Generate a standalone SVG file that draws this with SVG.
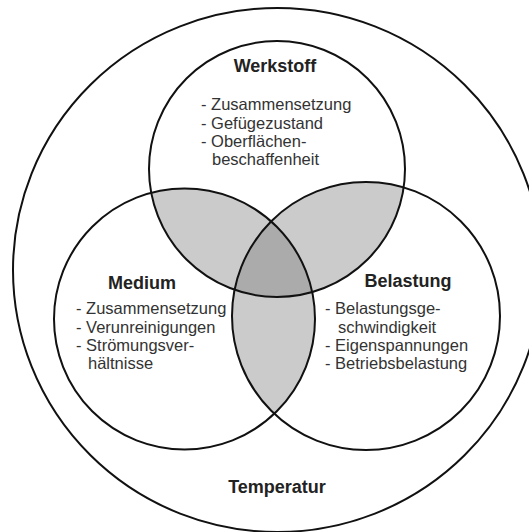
<svg xmlns="http://www.w3.org/2000/svg" width="529" height="532" viewBox="0 0 529 532">
<style>
.ring{fill:none;stroke:#111;stroke-width:2}
.title{font-family:"Liberation Sans",Arial,sans-serif;font-weight:bold;font-size:18px;fill:#222}
.item{font-family:"Liberation Sans",Arial,sans-serif;font-size:16.5px;fill:#333}
</style>
<defs>
<clipPath id="cTop"><circle cx="277" cy="169" r="128"/></clipPath>
<clipPath id="cLeft"><circle cx="184.5" cy="319" r="130.5"/></clipPath>
<clipPath id="cRight"><circle cx="366" cy="316" r="134"/></clipPath>
</defs>
<rect width="529" height="532" fill="#fff"/>
<g id="overlaps">
<circle cx="184.5" cy="319" r="130.5" fill="#cbcbcb" clip-path="url(#cTop)"/>
<circle cx="366" cy="316" r="134" fill="#cbcbcb" clip-path="url(#cTop)"/>
<circle cx="184.5" cy="319" r="130.5" fill="#cbcbcb" clip-path="url(#cRight)"/>
<g clip-path="url(#cTop)"><circle cx="184.5" cy="319" r="130.5" fill="#ababab" clip-path="url(#cRight)"/></g>
</g>
<g id="temperatur">
<ellipse class="ring" cx="277.5" cy="270" rx="264.5" ry="262"/>
<text class="title" x="277" y="493" text-anchor="middle">Temperatur</text>
</g>
<g id="werkstoff">
<circle class="ring" cx="277" cy="169" r="128"/>
<text class="title" x="275" y="72" text-anchor="middle">Werkstoff</text>
<text class="item" x="201" y="110">- Zusammensetzung</text>
<text class="item" x="201" y="128.5">- Gefügezustand</text>
<text class="item" x="201" y="147">- Oberflächen-</text>
<text class="item" x="212" y="165">beschaffenheit</text>
</g>
<g id="medium">
<circle class="ring" cx="184.5" cy="319" r="130.5"/>
<text class="title" x="142" y="289" text-anchor="middle">Medium</text>
<text class="item" x="76" y="314">- Zusammensetzung</text>
<text class="item" x="76" y="333">- Verunreinigungen</text>
<text class="item" x="76" y="351">- Strömungsver-</text>
<text class="item" x="88" y="369">hältnisse</text>
</g>
<g id="belastung">
<circle class="ring" cx="366" cy="316" r="134"/>
<text class="title" x="408" y="287" text-anchor="middle">Belastung</text>
<text class="item" x="325" y="314">- Belastungsge-</text>
<text class="item" x="338" y="333">schwindigkeit</text>
<text class="item" x="325" y="351">- Eigenspannungen</text>
<text class="item" x="325" y="369">- Betriebsbelastung</text>
</g>
</svg>
